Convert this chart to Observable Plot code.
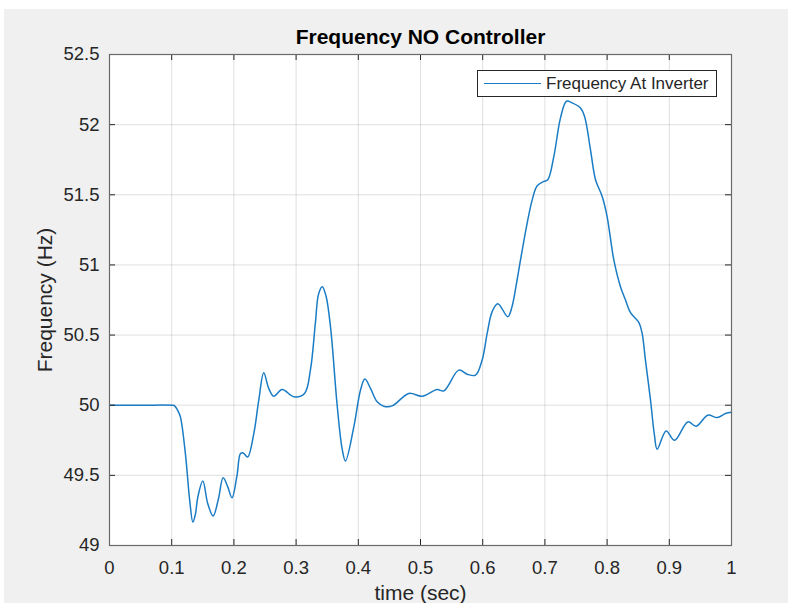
<!DOCTYPE html>
<html>
<head>
<meta charset="utf-8">
<script src="https://cdn.jsdelivr.net/npm/d3@7"></script>
<script src="https://cdn.jsdelivr.net/npm/@observablehq/plot@0.6"></script>
<style>
  html, body { margin: 0; padding: 0; background: #ffffff; }
  body { width: 788px; height: 603px; overflow: hidden; position: relative; font-family: "Liberation Sans", Arial, Helvetica, sans-serif; }
  #bg { position: absolute; left: 4px; top: 9px; right: 0; bottom: 0; background: #f0f0f0; }
  #chart { position: absolute; left: 0; top: 0; }
  #legend { position: absolute; left: 477px; top: 70px; width: 238px; height: 25px; border: 1px solid #262626; background: #ffffff; }
  #legend .swatch { position: absolute; left: 6px; top: 12px; width: 57px; height: 0; border-top: 1.4px solid #1a7cc4; }
  #legend .label { position: absolute; left: 68px; top: 3px; font-size: 17px; line-height: 19px; color: #262626; white-space: nowrap; }
</style>
</head>
<body>
<div id="bg"></div>
<div id="chart"></div>
<div id="legend"></div>
<script>
// ---- data ----
const titleText = "Frequency NO Controller";
const xLabel = "time (sec)";
const yLabel = "Frequency (Hz)";
const seriesName = "Frequency At Inverter";

const xTicks = [0, 0.1, 0.2, 0.3, 0.4, 0.5, 0.6, 0.7, 0.8, 0.9, 1];
const yTicks = [49, 49.5, 50, 50.5, 51, 51.5, 52, 52.5];

const time = [
  0.000, 0.050, 0.100, 0.104, 0.110, 0.114, 0.122, 0.129, 0.134, 0.138,
  0.142, 0.150, 0.158, 0.1666, 0.175, 0.1827, 0.190, 0.197, 0.205, 0.2106,
  0.215, 0.222, 0.232, 0.240, 0.248, 0.256, 0.264, 0.2776, 0.2964, 0.3135,
  0.323, 0.331, 0.336, 0.342, 0.348, 0.3553, 0.366, 0.374, 0.3794, 0.3928,
  0.4035, 0.4105, 0.4196, 0.4303, 0.441, 0.4545, 0.4812, 0.5026, 0.5268, 0.5375,
  0.5616, 0.575, 0.5884, 0.599, 0.6072, 0.6152, 0.6243, 0.6404, 0.647, 0.654,
  0.6608, 0.6715, 0.6796, 0.6876, 0.6984, 0.7047, 0.7144, 0.7251, 0.7347, 0.7438,
  0.7572, 0.7637, 0.7733, 0.7814, 0.7921, 0.800, 0.8108, 0.8215, 0.8296, 0.8376,
  0.851, 0.8563, 0.8617, 0.8698, 0.876, 0.8805, 0.8949, 0.9084, 0.9298, 0.9432,
  0.9619, 0.977, 0.9904, 1.000
];
const freq = [
  50.000, 50.000, 50.000, 49.998, 49.960, 49.917, 49.655, 49.320, 49.167, 49.220,
  49.345, 49.459, 49.298, 49.210, 49.330, 49.483, 49.420, 49.340, 49.500, 49.655,
  49.660, 49.631, 49.798, 50.036, 50.231, 50.120, 50.064, 50.112, 50.060, 50.084,
  50.250, 50.586, 50.790, 50.845, 50.780, 50.560, 50.000, 49.690, 49.602, 49.845,
  50.107, 50.186, 50.120, 50.024, 49.993, 49.995, 50.084, 50.064, 50.112, 50.102,
  50.250, 50.221, 50.214, 50.320, 50.512, 50.667, 50.724, 50.631, 50.700, 50.860,
  51.036, 51.298, 51.464, 51.564, 51.595, 51.607, 51.774, 52.048, 52.167, 52.155,
  52.119, 52.060, 51.821, 51.607, 51.488, 51.345, 51.036, 50.845, 50.750, 50.660,
  50.590, 50.512, 50.320, 50.036, 49.790, 49.686, 49.817, 49.750, 49.881, 49.850,
  49.929, 49.912, 49.941, 49.950
];

const data = time.map((t, i) => ({t, f: freq[i]}));

// ---- layout ----
const W = 788, H = 603;
const mL = 109, mR = 57, mT = 54, mB = 58;
const innerW = W - mL - mR;
const innerH = H - mT - mB;
const tickLen = 6;
const axisColor = "#262626";

const chart = Plot.plot({
  width: W,
  height: H,
  marginLeft: mL,
  marginRight: mR,
  marginTop: mT,
  marginBottom: mB,
  style: {
    background: "transparent",
    fontFamily: "'Liberation Sans', Arial, Helvetica, sans-serif",
    fontSize: "18.5px",
    color: axisColor,
    overflow: "visible"
  },
  x: {domain: [0, 1]},
  y: {domain: [49, 52.5]},
  marks: [
    Plot.frame({fill: "white", stroke: null}),
    Plot.gridX(xTicks, {stroke: axisColor, strokeOpacity: 0.15}),
    Plot.gridY(yTicks, {stroke: axisColor, strokeOpacity: 0.15}),
    Plot.line(data, {x: "t", y: "f", stroke: "#1a7cc4", strokeWidth: 1.5, curve: "catmull-rom"}),
    Plot.ruleX(xTicks, {x: d => d, insetTop: innerH - tickLen, stroke: axisColor}),
    Plot.ruleX(xTicks, {x: d => d, insetBottom: innerH - tickLen, stroke: axisColor}),
    Plot.ruleY(yTicks, {y: d => d, insetRight: innerW - tickLen, stroke: axisColor}),
    Plot.ruleY(yTicks, {y: d => d, insetLeft: innerW - tickLen, stroke: axisColor}),
    Plot.axisX(xTicks, {tickSize: 0, tickPadding: 15, tickFormat: d => String(d), label: null, fill: axisColor}),
    Plot.axisY(yTicks, {tickSize: 0, tickPadding: 10, tickFormat: d => String(d), label: null, fill: axisColor}),
    Plot.frame({stroke: "#6a6a6a", strokeWidth: 1.2}),
    Plot.text([xLabel], {frameAnchor: "bottom", dy: 48, fontSize: 21, lineAnchor: "middle", textAnchor: "middle", fill: axisColor}),
    Plot.text([yLabel], {frameAnchor: "left", dx: -64, rotate: -90, fontSize: 21, lineAnchor: "middle", textAnchor: "middle", fill: axisColor}),
    Plot.text([titleText], {frameAnchor: "top", dy: -17, fontSize: 21, fontWeight: "bold", lineAnchor: "middle", textAnchor: "middle", fill: "#000000"})
  ]
});
document.getElementById("chart").appendChild(chart);

const legend = document.getElementById("legend");
const sw = document.createElement("div");
sw.className = "swatch";
const lb = document.createElement("div");
lb.className = "label";
lb.textContent = seriesName;
legend.appendChild(sw);
legend.appendChild(lb);
</script>
</body>
</html>
